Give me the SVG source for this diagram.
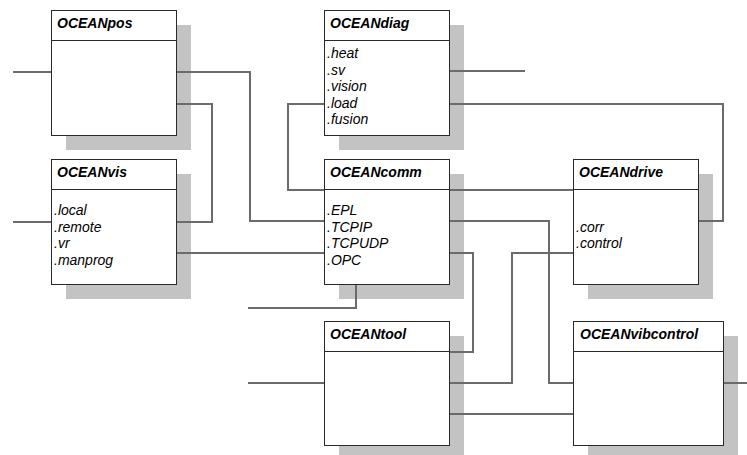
<svg xmlns="http://www.w3.org/2000/svg" width="747" height="455" viewBox="0 0 747 455">
<style>
.shadow{fill:#c3c3c3;stroke:none}
.box{fill:#fff;stroke:#2a2a2a;stroke-width:1}
.sep{stroke:#2a2a2a;stroke-width:1}
.title{font-family:"Liberation Sans",Arial,sans-serif;font-size:14px;font-weight:bold;font-style:italic;fill:#000}
.item{font-family:"Liberation Sans",Arial,sans-serif;font-size:14px;font-style:italic;fill:#000}
.conn path{fill:none;stroke:#6b6b6b;stroke-width:2}
</style>
<rect width="747" height="455" fill="#fff"/>
<g id="OCEANpos">
<rect class="shadow" x="66" y="25" width="125" height="125"/>
<rect class="box" x="51.5" y="10.5" width="125" height="125"/>
<line class="sep" x1="51.5" y1="40.5" x2="176.5" y2="40.5"/>
<text class="title" x="57" y="28">OCEANpos</text>
</g>
<g id="OCEANdiag">
<rect class="shadow" x="339" y="25" width="125" height="125"/>
<rect class="box" x="324.5" y="10.5" width="125" height="125"/>
<line class="sep" x1="324.5" y1="40.5" x2="449.5" y2="40.5"/>
<text class="title" x="330" y="28">OCEANdiag</text>
<text class="item" x="327" y="58">.heat</text>
<text class="item" x="327" y="74.5">.sv</text>
<text class="item" x="327" y="91">.vision</text>
<text class="item" x="327" y="107.5">.load</text>
<text class="item" x="327" y="124">.fusion</text>
</g>
<g id="OCEANvis">
<rect class="shadow" x="66" y="174" width="125" height="125"/>
<rect class="box" x="51.5" y="159.5" width="125" height="125"/>
<line class="sep" x1="51.5" y1="189.5" x2="176.5" y2="189.5"/>
<text class="title" x="57" y="177">OCEANvis</text>
<text class="item" x="54" y="215">.local</text>
<text class="item" x="54" y="231.5">.remote</text>
<text class="item" x="54" y="248">.vr</text>
<text class="item" x="54" y="264.5">.manprog</text>
</g>
<g id="OCEANcomm">
<rect class="shadow" x="339" y="174" width="125" height="125"/>
<rect class="box" x="324.5" y="159.5" width="125" height="125"/>
<line class="sep" x1="324.5" y1="189.5" x2="449.5" y2="189.5"/>
<text class="title" x="330" y="177">OCEANcomm</text>
<text class="item" x="327" y="215">.EPL</text>
<text class="item" x="327" y="231.5">.TCPIP</text>
<text class="item" x="327" y="248">.TCPUDP</text>
<text class="item" x="327" y="264.5">.OPC</text>
</g>
<g id="OCEANdrive">
<rect class="shadow" x="588" y="174" width="125" height="125"/>
<rect class="box" x="573.5" y="159.5" width="125" height="125"/>
<line class="sep" x1="573.5" y1="189.5" x2="698.5" y2="189.5"/>
<text class="title" x="579" y="177">OCEANdrive</text>
<text class="item" x="576" y="231.5">.corr</text>
<text class="item" x="576" y="248">.control</text>
</g>
<g id="OCEANtool">
<rect class="shadow" x="339" y="336" width="125" height="125"/>
<rect class="box" x="324.5" y="321.5" width="125" height="124"/>
<line class="sep" x1="324.5" y1="351.5" x2="449.5" y2="351.5"/>
<text class="title" x="330" y="339">OCEANtool</text>
</g>
<g id="OCEANvibcontrol">
<rect class="shadow" x="588" y="336" width="150" height="125"/>
<rect class="box" x="573.5" y="321.5" width="150" height="124"/>
<line class="sep" x1="573.5" y1="351.5" x2="723.5" y2="351.5"/>
<text class="title" x="580" y="339">OCEANvibcontrol</text>
</g>
<g id="connectors" class="conn">
<path d="M13,72 H51"/>
<path d="M177,72 H250 V221 H324"/>
<path d="M177,104 H212 V222 H177"/>
<path d="M13,222 H51"/>
<path d="M177,253 H324"/>
<path d="M324,104 H288 V190 H324"/>
<path d="M450,71 H525"/>
<path d="M450,104 H723 V221 H699"/>
<path d="M450,190 H573"/>
<path d="M450,221 H549 V383 H573"/>
<path d="M450,253 H473 V352 H450"/>
<path d="M356,285 V308 H248"/>
<path d="M573,253 H512 V383 H450"/>
<path d="M248,383 H324"/>
<path d="M450,414 H573"/>
<path d="M724,383 H747"/>
</g>
</svg>
